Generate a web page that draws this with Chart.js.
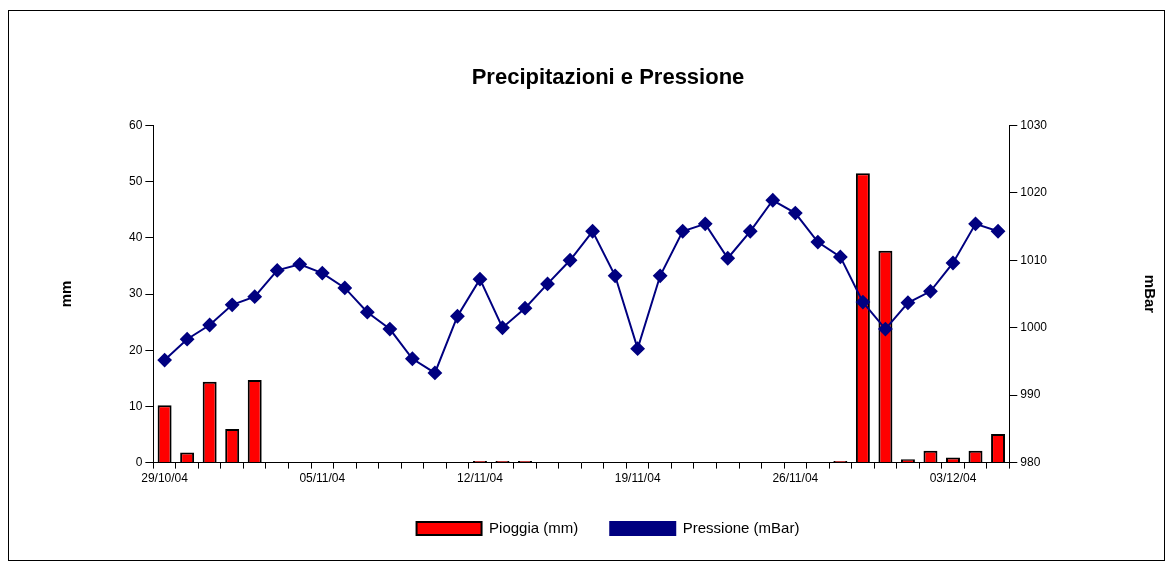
<!DOCTYPE html>
<html><head><meta charset="utf-8">
<script src="https://cdn.jsdelivr.net/npm/chart.js@4"></script>
<style>html,body{margin:0;background:#fff}#w{width:1172px;height:566px;position:relative}</style>
</head><body><div id="w"><canvas id="c"></canvas></div>
<script>
const dates=["29/10/04","30/10/04","31/10/04","01/11/04","02/11/04","03/11/04","04/11/04","05/11/04","06/11/04","07/11/04","08/11/04","09/11/04","10/11/04","11/11/04","12/11/04","13/11/04","14/11/04","15/11/04","16/11/04","17/11/04","18/11/04","19/11/04","20/11/04","21/11/04","22/11/04","23/11/04","24/11/04","25/11/04","26/11/04","27/11/04","28/11/04","29/11/04","30/11/04","01/12/04","02/12/04","03/12/04","04/12/04","05/12/04"];
const rain=[10.2,1.8,14.4,6.0,14.7,0,0,0,0,0,0,0,0,0,0.3,0.3,0.3,0,0,0,0,0,0,0,0,0,0,0,0,0,0.3,51.5,37.7,0.6,2.1,0.9,2.1,5.1];
const pressure=[995.2,998.3,1000.4,1003.4,1004.6,1008.5,1009.4,1008.1,1005.9,1002.3,999.8,995.4,993.3,1001.7,1007.2,1000.0,1002.9,1006.5,1010.0,1014.3,1007.7,996.9,1007.7,1014.3,1015.4,1010.3,1014.3,1018.9,1017.0,1012.7,1010.5,1003.8,999.8,1003.7,1005.4,1009.6,1015.4,1014.3];
const frame={id:'frame',afterDraw(ch){const x=ch.ctx;x.save();x.strokeStyle='#000';x.lineWidth=1;x.strokeRect(8.5,10.5,1156,550);x.restore();}};
const F='Arial, "Liberation Sans", sans-serif';
new Chart(document.getElementById('c'),{
 data:{labels:dates,datasets:[
  {type:'line',label:'Pressione (mBar)',data:pressure,yAxisID:'y2',borderColor:'#000080',backgroundColor:'#000080',borderWidth:2,pointStyle:'rectRot',pointRadius:6,pointHoverRadius:6,tension:0,order:0},
  {type:'bar',label:'Pioggia (mm)',data:rain,yAxisID:'y',backgroundColor:'#ff0000',borderColor:'#000',borderWidth:2,barPercentage:0.62,categoryPercentage:1,order:1}
 ]},
 options:{responsive:true,maintainAspectRatio:false,animation:false,
  layout:{padding:{left:54,right:10,top:30,bottom:20}},
  plugins:{title:{display:true,text:'Precipitazioni e Pressione',color:'#000',font:{family:F,size:22,weight:'bold'},padding:{top:35,bottom:34}},
   legend:{position:'bottom',reverse:true,labels:{color:'#000',font:{family:F,size:15},boxWidth:65,boxHeight:13,padding:32}},tooltip:{enabled:false}},
  scales:{
   x:{offset:true,grid:{offset:true,drawOnChartArea:false,color:'#000',tickLength:6},border:{color:'#000'},
      ticks:{autoSkip:false,maxRotation:0,color:'#000',font:{family:F,size:12},callback:function(v,i){return i%7===0?this.getLabelForValue(v):'';}}},
   y:{position:'left',min:0,max:60,grid:{drawOnChartArea:false,color:'#000',tickLength:8},border:{color:'#000'},
      ticks:{stepSize:10,color:'#000',font:{family:F,size:12}},title:{display:true,text:'mm',color:'#000',font:{family:F,size:15,weight:'bold'},padding:{top:4,bottom:50}}},
   y2:{position:'right',min:980,max:1030,grid:{drawOnChartArea:false,color:'#000',tickLength:8},border:{color:'#000'},
      ticks:{stepSize:10,color:'#000',font:{family:F,size:12},callback:v=>String(v)},title:{display:true,text:'mBar',color:'#000',font:{family:F,size:15,weight:'bold'},padding:{top:4,bottom:90}}}
  }},
 plugins:[frame]
});
</script></body></html>
